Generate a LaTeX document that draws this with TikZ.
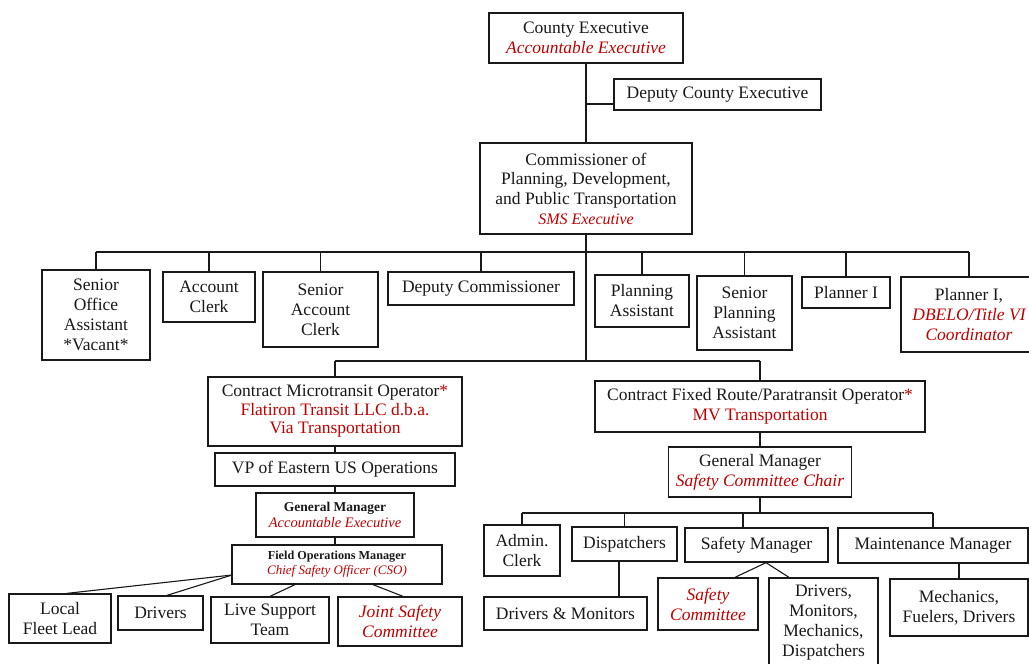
\documentclass[tikz,border=0pt]{standalone}
\usepackage{fontspec}
\setmainfont{Liberation Serif}
\definecolor{rd}{RGB}{192,0,0}
\definecolor{ink}{RGB}{25,25,25}
\newcommand\redt[1]{\textcolor{rd}{#1}}
\newcommand\redi[1]{\textcolor{rd}{\itshape #1}}
\tikzset{
  box/.style={draw=ink, line width=1.3pt, fill=white, align=center, inner sep=0pt,
    text=ink, font=\fontsize{17.5}{20}\selectfont},
  wh/.style 2 args={minimum width=#1pt, minimum height=#2pt},
  ln/.style={draw=ink, line width=1.1pt}
}
\begin{document}
\begin{tikzpicture}[x=1pt,y=-1pt]
\useasboundingbox (0,0) rectangle (1029,664);
\clip (0,0) rectangle (1029,664);
\fill[white] (0,0) rectangle (1029,664);

% top
\node[box, wh={194}{50}] (ce) at (586,38) {County Executive\\\redi{Accountable Executive}};
\node[box, wh={207}{31}] (dce) at (717.5,94.5) {Deputy County Executive};
\node[box, wh={212}{91}, font=\fontsize{17.5}{19.7}\selectfont] (comm) at (586,188.5)
  {Commissioner of\\Planning, Development,\\and Public Transportation\\{\fontsize{16}{19}\selectfont\redi{SMS Executive}}};

% row 1
\node[box, wh={108}{90}] (soa) at (96,315) {Senior\\Office\\Assistant\\*Vacant*};
\node[box, wh={92}{50}] (ac) at (209,297) {Account\\Clerk};
\node[box, wh={115}{75}] (sac) at (320.5,309.5) {Senior\\Account\\Clerk};
\node[box, wh={186}{33}] (dc) at (481,288.5) {Deputy Commissioner};
\node[box, wh={94}{52}] (pa) at (642,301) {Planning\\Assistant};
\node[box, wh={95}{74}] (spa) at (744.5,313) {Senior\\Planning\\Assistant};
\node[box, wh={88}{31}] (p1) at (846,292.5) {Planner I};
\node[box, wh={136}{75}] (p1d) at (969,314.5) {Planner I,\\\redi{DBELO/Title VI}\\\redi{Coordinator}};

% left branch
\node[box, wh={254}{69}, font=\fontsize{17.5}{18.5}\selectfont] (cmo) at (335,411.5)
  {Contract Microtransit Operator\redt{*}\\\redt{Flatiron Transit LLC d.b.a.}\\\redt{Via Transportation}};
\node[box, wh={240}{33}] (vp) at (335,469.5) {VP of Eastern US Operations};
\node[box, wh={158}{44}, font=\fontsize{14.5}{16.5}\selectfont] (gml) at (335,515)
  {{\fontsize{13.5}{16.5}\selectfont\bfseries General Manager}\\\redi{Accountable Executive}};
\node[box, wh={210}{39}, font=\fontsize{13}{15}\selectfont] (fom) at (337,564.5)
  {{\fontsize{12.2}{15}\selectfont\bfseries Field Operations Manager}\\\redi{Chief Safety Officer (CSO)}};
\node[box, wh={102}{49}] (lfl) at (60,618.5) {Local\\Fleet Lead};
\node[box, wh={85}{34}] (drl) at (160.5,613) {Drivers};
\node[box, wh={118}{46}] (lst) at (270,620) {Live Support\\Team};
\node[box, wh={124}{49}] (jsc) at (400,621.5) {\redi{Joint Safety}\\\redi{Committee}};

% right branch
\node[box, wh={330}{51}] (cfr) at (760,406.5)
  {Contract Fixed Route/Paratransit Operator\redt{*}\\\redt{MV Transportation}};
\node[box, wh={183}{50}] (gmr) at (760,472) {General Manager\\\redi{Safety Committee Chair}};
\node[box, wh={76}{51}] (adm) at (522,550.5) {Admin.\\Clerk};
\node[box, wh={105}{34}] (dsp) at (624.5,544) {Dispatchers};
\node[box, wh={143}{34}] (sfm) at (756.5,545) {Safety Manager};
\node[box, wh={190}{35}] (mtm) at (933,545.5) {Maintenance Manager};
\node[box, wh={163}{33}] (dam) at (565.5,613.5) {Drivers \& Monitors};
\node[box, wh={100}{52}] (sfc) at (708,604) {\redi{Safety}\\\redi{Committee}};
\node[box, wh={109}{89}] (dmm) at (823.5,622.5) {Drivers,\\Monitors,\\Mechanics,\\Dispatchers};
\node[box, wh={138}{57}] (mfd) at (959,607.5) {Mechanics,\\Fuelers, Drivers};

% connectors top
\coordinate (j1) at (586,104);
\coordinate (b1) at (586,252);
\coordinate (b2) at (586,361);
\coordinate (b3) at (760,513);
\coordinate (fl) at (232,575);
\draw[ln] (ce.south) -- (comm.north);
\draw[ln] (j1) -- (j1 -| dce.west);
\draw[ln] (comm.south) -- (b2);
\draw[ln] (soa.north |- b1) -- (p1d.north |- b1);
\foreach \n in {soa,ac,sac,dc,pa,spa,p1,p1d} {\draw[ln] (\n.north) -- (\n.north |- b1);}
\draw[ln] (cmo.north |- b2) -- (cfr.north |- b2);
\draw[ln] (cmo.north) -- (cmo.north |- b2);
\draw[ln] (cfr.north) -- (cfr.north |- b2);

% left chain
\draw[ln] (cmo.south) -- (vp.north);
\draw[ln] (vp.south) -- (gml.north);
\draw[ln] (gml.south) -- (gml.south |- fom.north);
\draw[ln] (fl) -- ([xshift=7pt]lfl.north);
\draw[ln] (fl) -- ([xshift=6.5pt]drl.north);
\draw[ln] ([xshift=-42pt]fom.south) -- (lst.north);
\draw[ln] ([xshift=36pt]fom.south) -- ([xshift=3pt]jsc.north);

% right chain
\draw[ln] (cfr.south) -- (gmr.north);
\draw[ln] (gmr.south) -- (b3);
\draw[ln] (adm.north |- b3) -- (mtm.north |- b3);
\foreach \n in {adm,dsp,mtm} {\draw[ln] (\n.north) -- (\n.north |- b3);}
\draw[ln] ([xshift=-13.5pt]sfm.north) -- ([xshift=-13.5pt]sfm.north |- b3);
\draw[ln] ([xshift=-5.5pt]dsp.south) -- ([xshift=-5.5pt]dsp.south |- dam.north);
\draw[ln] ([xshift=9.5pt]sfm.south) -- ([xshift=27pt]sfc.north);
\draw[ln] ([xshift=9.5pt]sfm.south) -- ([xshift=-34.5pt]dmm.north);
\draw[ln] (mfd.north) -- (mfd.north |- mtm.south);
\end{tikzpicture}
\end{document}
